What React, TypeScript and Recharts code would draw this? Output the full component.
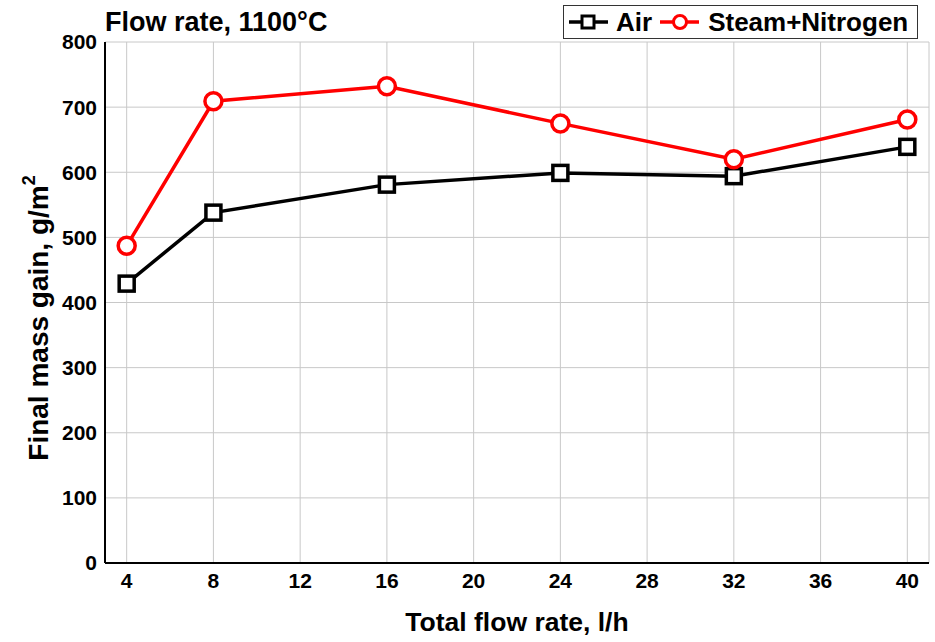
import { LineChart, Line, XAxis, YAxis, CartesianGrid } from 'recharts'

const flowRates = [4, 8, 16, 24, 32, 40]
const airGain = [429, 538, 581, 599, 594, 639]
const steamGain = [487, 709, 732, 675, 620, 681]

const xTicks = [4, 8, 12, 16, 20, 24, 28, 32, 36, 40]
const yTicks = [0, 100, 200, 300, 400, 500, 600, 700, 800]
const yMinorTicks = Array.from({ length: 81 }, (_, i) => i * 10)

const data = flowRates.map((rate, i) => ({
  rate,
  air: airGain[i],
  steam: steamGain[i],
}))

const FONT = 'Liberation Sans, Arial, sans-serif'
const tickStyle = { fontFamily: FONT, fontSize: 21, fontWeight: 700, fill: '#000' }
const noLabel = () => <g />

function SquareDot(props: any) {
  const { cx, cy } = props
  if (cx == null || cy == null) return null
  return <rect x={cx - 7.5} y={cy - 7.5} width={15} height={15} fill="#fff" stroke="#000" strokeWidth={3.5} />
}

function CircleDot(props: any) {
  const { cx, cy } = props
  if (cx == null || cy == null) return null
  return <circle cx={cx} cy={cy} r={8.5} fill="#fff" stroke="#ff0000" strokeWidth={3.5} />
}

function LegendBox() {
  return (
    <div
      style={{
        position: 'absolute',
        left: 563,
        top: 5,
        width: 353,
        height: 32,
        border: '1px solid #333',
        background: '#fff',
        display: 'flex',
        alignItems: 'center',
        fontFamily: FONT,
        fontWeight: 700,
        fontSize: 26,
        color: '#000',
        whiteSpace: 'nowrap',
      }}
    >
      <svg width={44} height={30} style={{ marginLeft: 4 }}>
        <line x1={1} y1={15} x2={40} y2={15} stroke="#000" strokeWidth={3.5} />
        <rect x={14} y={9} width={12} height={12} fill="#fff" stroke="#000" strokeWidth={3} />
      </svg>
      <span style={{ marginLeft: 4 }}>Air</span>
      <svg width={44} height={30} style={{ marginLeft: 8 }}>
        <line x1={0} y1={15} x2={39} y2={15} stroke="#ff0000" strokeWidth={3.5} />
        <circle cx={20} cy={15} r={6.5} fill="#fff" stroke="#ff0000" strokeWidth={3} />
      </svg>
      <span style={{ marginLeft: 4 }}>Steam+Nitrogen</span>
    </div>
  )
}

export default function App() {
  return (
    <div style={{ position: 'relative', width: 935, height: 642, background: '#fff' }}>
      <style>{`body{margin:0;background:#fff}`}</style>
      <LineChart
        width={935}
        height={642}
        data={data}
        margin={{ top: 42, right: 6, bottom: 0, left: 45 }}
      >
        <CartesianGrid
          xAxisId="x"
          yAxisId="y"
          stroke="#c8c8c8"
          strokeWidth={1}
        />
        <XAxis
          xAxisId="x"
          dataKey="rate"
          type="number"
          domain={[3, 41]}
          ticks={xTicks}
          allowDataOverflow
          height={79}
          tickLine={false}
          tickMargin={4}
          axisLine={{ stroke: '#000', strokeWidth: 2 }}
          tick={tickStyle}
          label={() => (
            <text x={517} y={631} textAnchor="middle" fontFamily={FONT} fontSize={26.5} fontWeight={700} fill="#000">
              Total flow rate, l/h
            </text>
          )}
        />
        <XAxis
          xAxisId="xb"
          dataKey="rate"
          type="number"
          domain={[3, 41]}
          ticks={xTicks}
          height={0}
          mirror
          tick={noLabel}
          tickSize={6}
          tickLine={{ stroke: '#000', strokeWidth: 2 }}
          axisLine={false}
        />
        <XAxis
          xAxisId="xt"
          orientation="top"
          dataKey="rate"
          type="number"
          domain={[3, 41]}
          ticks={xTicks}
          height={0}
          mirror
          tick={noLabel}
          tickSize={6}
          tickLine={{ stroke: '#000', strokeWidth: 2 }}
          axisLine={{ stroke: '#000', strokeWidth: 2 }}
        />
        <YAxis
          yAxisId="y"
          type="number"
          domain={[0, 800]}
          ticks={yTicks}
          width={60}
          tickLine={false}
          axisLine={{ stroke: '#000', strokeWidth: 2 }}
          tick={tickStyle}
          label={() => (
            <text
              x={48}
              y={318}
              transform="rotate(-90 48 318)"
              textAnchor="middle"
              fontFamily={FONT}
              fontSize={28}
              fontWeight={700}
              fill="#000"
            >
              Final mass gain, g/m
              <tspan fontSize={18} dy={-13}>2</tspan>
            </text>
          )}
        />
        <YAxis
          yAxisId="yl"
          type="number"
          domain={[0, 800]}
          ticks={yTicks}
          width={0}
          mirror
          tick={noLabel}
          tickSize={6}
          tickLine={{ stroke: '#000', strokeWidth: 2 }}
          axisLine={false}
        />
        <YAxis
          yAxisId="ylm"
          type="number"
          domain={[0, 800]}
          ticks={yMinorTicks}
          width={0}
          mirror
          tick={noLabel}
          tickSize={3}
          tickLine={{ stroke: '#000', strokeWidth: 1.5 }}
          axisLine={false}
        />
        <YAxis
          yAxisId="yr"
          orientation="right"
          type="number"
          domain={[0, 800]}
          ticks={yTicks}
          width={0}
          mirror
          tick={noLabel}
          tickSize={6}
          tickLine={{ stroke: '#000', strokeWidth: 2 }}
          axisLine={{ stroke: '#000', strokeWidth: 2 }}
        />
        <YAxis
          yAxisId="yrm"
          orientation="right"
          type="number"
          domain={[0, 800]}
          ticks={yMinorTicks}
          width={0}
          mirror
          tick={noLabel}
          tickSize={3}
          tickLine={{ stroke: '#000', strokeWidth: 1.5 }}
          axisLine={false}
        />
        <Line
          xAxisId="x"
          yAxisId="y"
          dataKey="air"
          name="Air"
          stroke="#000"
          strokeWidth={3.5}
          dot={<SquareDot />}
          activeDot={false}
          isAnimationActive={false}
        />
        <Line
          xAxisId="x"
          yAxisId="y"
          dataKey="steam"
          name="Steam+Nitrogen"
          stroke="#ff0000"
          strokeWidth={3.5}
          dot={<CircleDot />}
          activeDot={false}
          isAnimationActive={false}
        />
      </LineChart>
      <LegendBox />
      <div
        style={{
          position: 'absolute',
          left: 105,
          top: 7,
          fontFamily: FONT,
          fontWeight: 700,
          fontSize: 27,
          color: '#000',
          lineHeight: '30px',
          whiteSpace: 'nowrap',
        }}
      >
        Flow rate, 1100°C
      </div>
    </div>
  )
}
